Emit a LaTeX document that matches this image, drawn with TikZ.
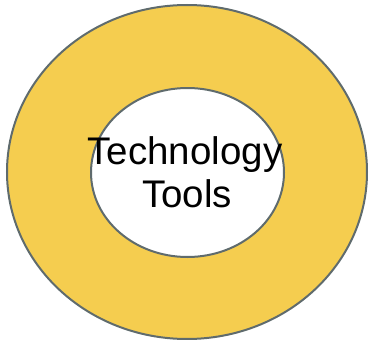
\documentclass[tikz,border=0pt]{standalone}
\usepackage{fontspec}
\setmainfont{Liberation Sans}
\usetikzlibrary{shapes.geometric}
\definecolor{ringyellow}{HTML}{F5CD4F}
\definecolor{ringline}{HTML}{5F6B6D}
\tikzset{
  ringshape/.style={ellipse, draw=ringline, line width=2pt, inner sep=0pt},
  label/.style={font=\fontsize{38.5}{44}\selectfont, text=black, anchor=base, inner sep=0pt}
}
\begin{document}
\begin{tikzpicture}[x=1pt,y=-1pt]
\useasboundingbox (0,0) rectangle (370,340);
\node[ringshape, fill=ringyellow, minimum width=360pt, minimum height=334pt] (outer) at (187,172) {};
\node[ringshape, fill=white, minimum width=193pt, minimum height=169pt] (inner) at (187.5,172.5) {};
\node[label] (t1) at (185,164) {Technology};
\node[label] (t2) at (187,207) {Tools};
\end{tikzpicture}
\end{document}
